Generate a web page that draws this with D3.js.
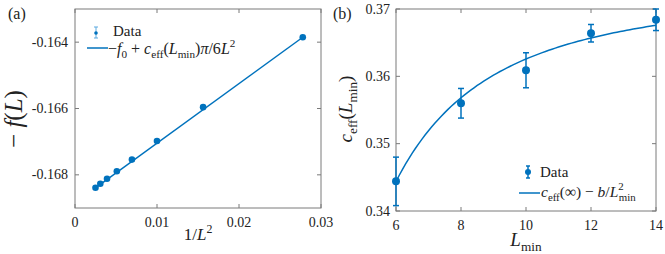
<!DOCTYPE html>
<html>
<head>
<meta charset="utf-8">
<script src="https://cdn.jsdelivr.net/npm/d3@7"></script>
<style>
  body { margin: 0; background: #fff; }
  svg { display: block; }
</style>
</head>
<body>
<div id="chart"></div>
<script>
// panel (a) data: system sizes and -f(L)
const sizes = [6, 8, 10, 12, 14, 16, 18, 20];
const negF = [-0.16385, -0.16596, -0.16698, -0.16754, -0.16789, -0.16812, -0.16827, -0.16839];
const xTicksA = [0, 0.01, 0.02, 0.03];
const yTicksA = [-0.164, -0.166, -0.168];
// linear fit -f0 + c*pi/6 * x
const f0 = 0.16884;
const cFitA = 0.343;

// panel (b) data: c_eff(L_min)
const lMin = [6, 8, 10, 12, 14];
const cEff = [0.3444, 0.3560, 0.3609, 0.3664, 0.3684];
const cEffErr = [0.0036, 0.0022, 0.0026, 0.0013, 0.0016];
const xTicksB = [6, 8, 10, 12, 14];
const yTicksB = [0.34, 0.35, 0.36, 0.37];
// fit c_inf - b/L^2
const cInf = 0.3728;
const bFit = 1.023;

const blue = "#0072bd";
const axisCol = "#7a7a7a";
const serif = "'Liberation Serif'";

let svg = d3.select("#chart").append("svg")
    .attr("width", 665)
    .attr("height", 254);

function txt(g) {
    return g.append("text").style("font-family", serif).attr("fill", "#222");
}

// writes math-ish text with italic, sub and sup parts
// parts: [text, flags, dx]; flags "it" italic, "sub", "sup"
function mathText(g, x, y, parts, size, anchor) {
    let t = txt(g)
        .attr("x", x)
        .attr("y", y)
        .attr("font-size", size)
        .attr("text-anchor", anchor || "start");
    let shift = 0;
    parts.forEach(function (p) {
        let s = p[1] || "";
        let target = 0;
        let fs = size;
        if (s.includes("sub")) { target = size * 0.28; fs = size * 0.7; }
        if (s.includes("sup")) { target = -size * 0.42; fs = size * 0.7; }
        let sp = t.append("tspan")
            .attr("dy", target - shift)
            .attr("font-size", fs)
            .attr("font-style", s.includes("it") ? "italic" : "normal")
            .style("font-family", serif)
            .text(p[0]);
        if (p[2]) sp.attr("dx", p[2]);
        shift = target;
    });
    return t;
}

function drawAxes(box, x, y, xTicks, yTicks, xFmt, yFmt, gap) {
    let g = svg.append("g");
    let tl = 4;
    g.append("rect")
        .attr("x", box.left).attr("y", box.top)
        .attr("width", box.right - box.left).attr("height", box.bottom - box.top)
        .attr("fill", "none").attr("stroke", axisCol).attr("stroke-width", 1);
    xTicks.forEach(function (v) {
        let px = x(v);
        g.append("line").attr("x1", px).attr("x2", px).attr("y1", box.bottom).attr("y2", box.bottom - tl).attr("stroke", axisCol);
        g.append("line").attr("x1", px).attr("x2", px).attr("y1", box.top).attr("y2", box.top + tl).attr("stroke", axisCol);
        txt(g).attr("x", px).attr("y", box.bottom + 19)
            .attr("text-anchor", "middle").attr("font-size", 14).text(xFmt(v));
    });
    yTicks.forEach(function (v) {
        let py = y(v);
        g.append("line").attr("x1", box.left).attr("x2", box.left + tl).attr("y1", py).attr("y2", py).attr("stroke", axisCol);
        g.append("line").attr("x1", box.right).attr("x2", box.right - tl).attr("y1", py).attr("y2", py).attr("stroke", axisCol);
        txt(g).attr("x", box.left - gap).attr("y", py + 4.5)
            .attr("text-anchor", "end").attr("font-size", 14).text(yFmt(v));
    });
    return g;
}

// ---------- panel (a)
let boxA = { left: 75, right: 321, top: 9, bottom: 208 };
let xA = d3.scaleLinear().domain([0, 0.03]).range([boxA.left, boxA.right]);
let yA = d3.scaleLinear().domain([-0.169, -0.163]).range([boxA.bottom, boxA.top]);
drawAxes(boxA, xA, yA, xTicksA, yTicksA,
    function (v) { return v === 0 ? "0" : String(v); },
    function (v) { return "-" + Math.abs(v).toFixed(3); }, 7);

let invL2 = sizes.map(function (L) { return 1 / (L * L); });
let fitXA = d3.extent(invL2);
svg.append("line")
    .attr("x1", xA(fitXA[0])).attr("y1", yA(-f0 + cFitA * Math.PI / 6 * fitXA[0]))
    .attr("x2", xA(fitXA[1])).attr("y2", yA(-f0 + cFitA * Math.PI / 6 * fitXA[1]))
    .attr("stroke", blue).attr("stroke-width", 1.5);

svg.append("g").selectAll("circle")
    .data(sizes)
    .enter()
    .append("circle")
    .attr("cx", function (d, i) { return xA(invL2[i]); })
    .attr("cy", function (d, i) { return yA(negF[i]); })
    .attr("r", 3.3)
    .attr("fill", blue);

// legend (a)
svg.append("line").attr("x1", 96).attr("x2", 96).attr("y1", 27).attr("y2", 38).attr("stroke", "#5aa9e0").attr("stroke-width", 1);
svg.append("line").attr("x1", 94).attr("x2", 98).attr("y1", 27).attr("y2", 27).attr("stroke", "#5aa9e0");
svg.append("line").attr("x1", 94).attr("x2", 98).attr("y1", 38).attr("y2", 38).attr("stroke", "#5aa9e0");
svg.append("circle").attr("cx", 96).attr("cy", 33).attr("r", 1.8).attr("fill", blue);
txt(svg).attr("x", 113).attr("y", 36).attr("font-size", 15).text("Data");
svg.append("line").attr("x1", 87).attr("x2", 108).attr("y1", 48).attr("y2", 48).attr("stroke", blue).attr("stroke-width", 1.5);
mathText(svg, 108, 54, [
    ["\u2212", ""], ["f", "it"], ["0", "sub"], [" + ", ""], ["c", "it"], ["eff", "sub"],
    ["(", ""], ["L", "it"], ["min", "sub"], [")", ""], ["\u03c0", "it"], ["/6", ""], ["L", "it"], ["2", "sup"]
], 16);

// axis labels (a)
txt(svg).attr("x", 8).attr("y", 19).attr("font-size", 16).text("(a)");
mathText(svg, 198, 240, [["1/", ""], ["L", "it"], ["2", "sup"]], 17, "middle");
let yl = mathText(svg, 0, 0, [["\u2212 ", ""], ["f", "it"], ["(", ""], ["L", "it"], [")", ""]], 25, "middle");
yl.attr("transform", "translate(22,119) rotate(-90)");

// ---------- panel (b)
let boxB = { left: 396, right: 656, top: 9, bottom: 211 };
let xB = d3.scaleLinear().domain([6, 14]).range([boxB.left, boxB.right]);
let yB = d3.scaleLinear().domain([0.34, 0.37]).range([boxB.bottom, boxB.top]);
drawAxes(boxB, xB, yB, xTicksB, yTicksB,
    function (v) { return String(v); },
    function (v) { return v.toFixed(2); }, 6);

let fitL = d3.range(6, 14.001, 0.1);
let line = d3.line()
    .x(function (d) { return xB(d); })
    .y(function (d) { return yB(cInf - bFit / (d * d)); });
svg.append("path").datum(fitL)
    .attr("d", line)
    .attr("fill", "none").attr("stroke", blue).attr("stroke-width", 1.5);

let eb = svg.append("g").selectAll("g")
    .data(lMin)
    .enter()
    .append("g");
eb.append("line")
    .attr("x1", function (d) { return xB(d); }).attr("x2", function (d) { return xB(d); })
    .attr("y1", function (d, i) { return yB(cEff[i] - cEffErr[i]); })
    .attr("y2", function (d, i) { return yB(cEff[i] + cEffErr[i]); })
    .attr("stroke", blue).attr("stroke-width", 1.5);
[-1, 1].forEach(function (sgn) {
    eb.append("line")
        .attr("x1", function (d) { return xB(d) - 3; }).attr("x2", function (d) { return xB(d) + 3; })
        .attr("y1", function (d, i) { return yB(cEff[i] + sgn * cEffErr[i]); })
        .attr("y2", function (d, i) { return yB(cEff[i] + sgn * cEffErr[i]); })
        .attr("stroke", blue).attr("stroke-width", 1.5);
});
eb.append("circle")
    .attr("cx", function (d) { return xB(d); })
    .attr("cy", function (d, i) { return yB(cEff[i]); })
    .attr("r", 4)
    .attr("fill", blue);

// legend (b)
svg.append("line").attr("x1", 528).attr("x2", 528).attr("y1", 166).attr("y2", 178).attr("stroke", blue).attr("stroke-width", 1.5);
svg.append("line").attr("x1", 526).attr("x2", 530).attr("y1", 166).attr("y2", 166).attr("stroke", blue).attr("stroke-width", 1.5);
svg.append("line").attr("x1", 526).attr("x2", 530).attr("y1", 178).attr("y2", 178).attr("stroke", blue).attr("stroke-width", 1.5);
svg.append("circle").attr("cx", 528).attr("cy", 172).attr("r", 3).attr("fill", blue);
txt(svg).attr("x", 540).attr("y", 177).attr("font-size", 15).text("Data");
svg.append("line").attr("x1", 519).attr("x2", 540).attr("y1", 193).attr("y2", 193).attr("stroke", blue).attr("stroke-width", 1.5);
mathText(svg, 541, 197, [
    ["c", "it"], ["eff", "sub"], ["(\u221e) \u2212 ", ""], ["b", "it"], ["/", ""], ["L", "it"], ["2", "sup"], ["min", "sub", -5]
], 15.5);

txt(svg).attr("x", 333).attr("y", 19).attr("font-size", 16).text("(b)");
mathText(svg, 526, 246, [["L", "it"], ["min", "sub"]], 19, "middle");
let ylb = mathText(svg, 0, 0, [["c", "it"], ["eff", "sub"], ["(", ""], ["L", "it"], ["min", "sub"], [")", ""]], 19, "middle");
ylb.attr("transform", "translate(352,109) rotate(-90)");
</script>
</body>
</html>
